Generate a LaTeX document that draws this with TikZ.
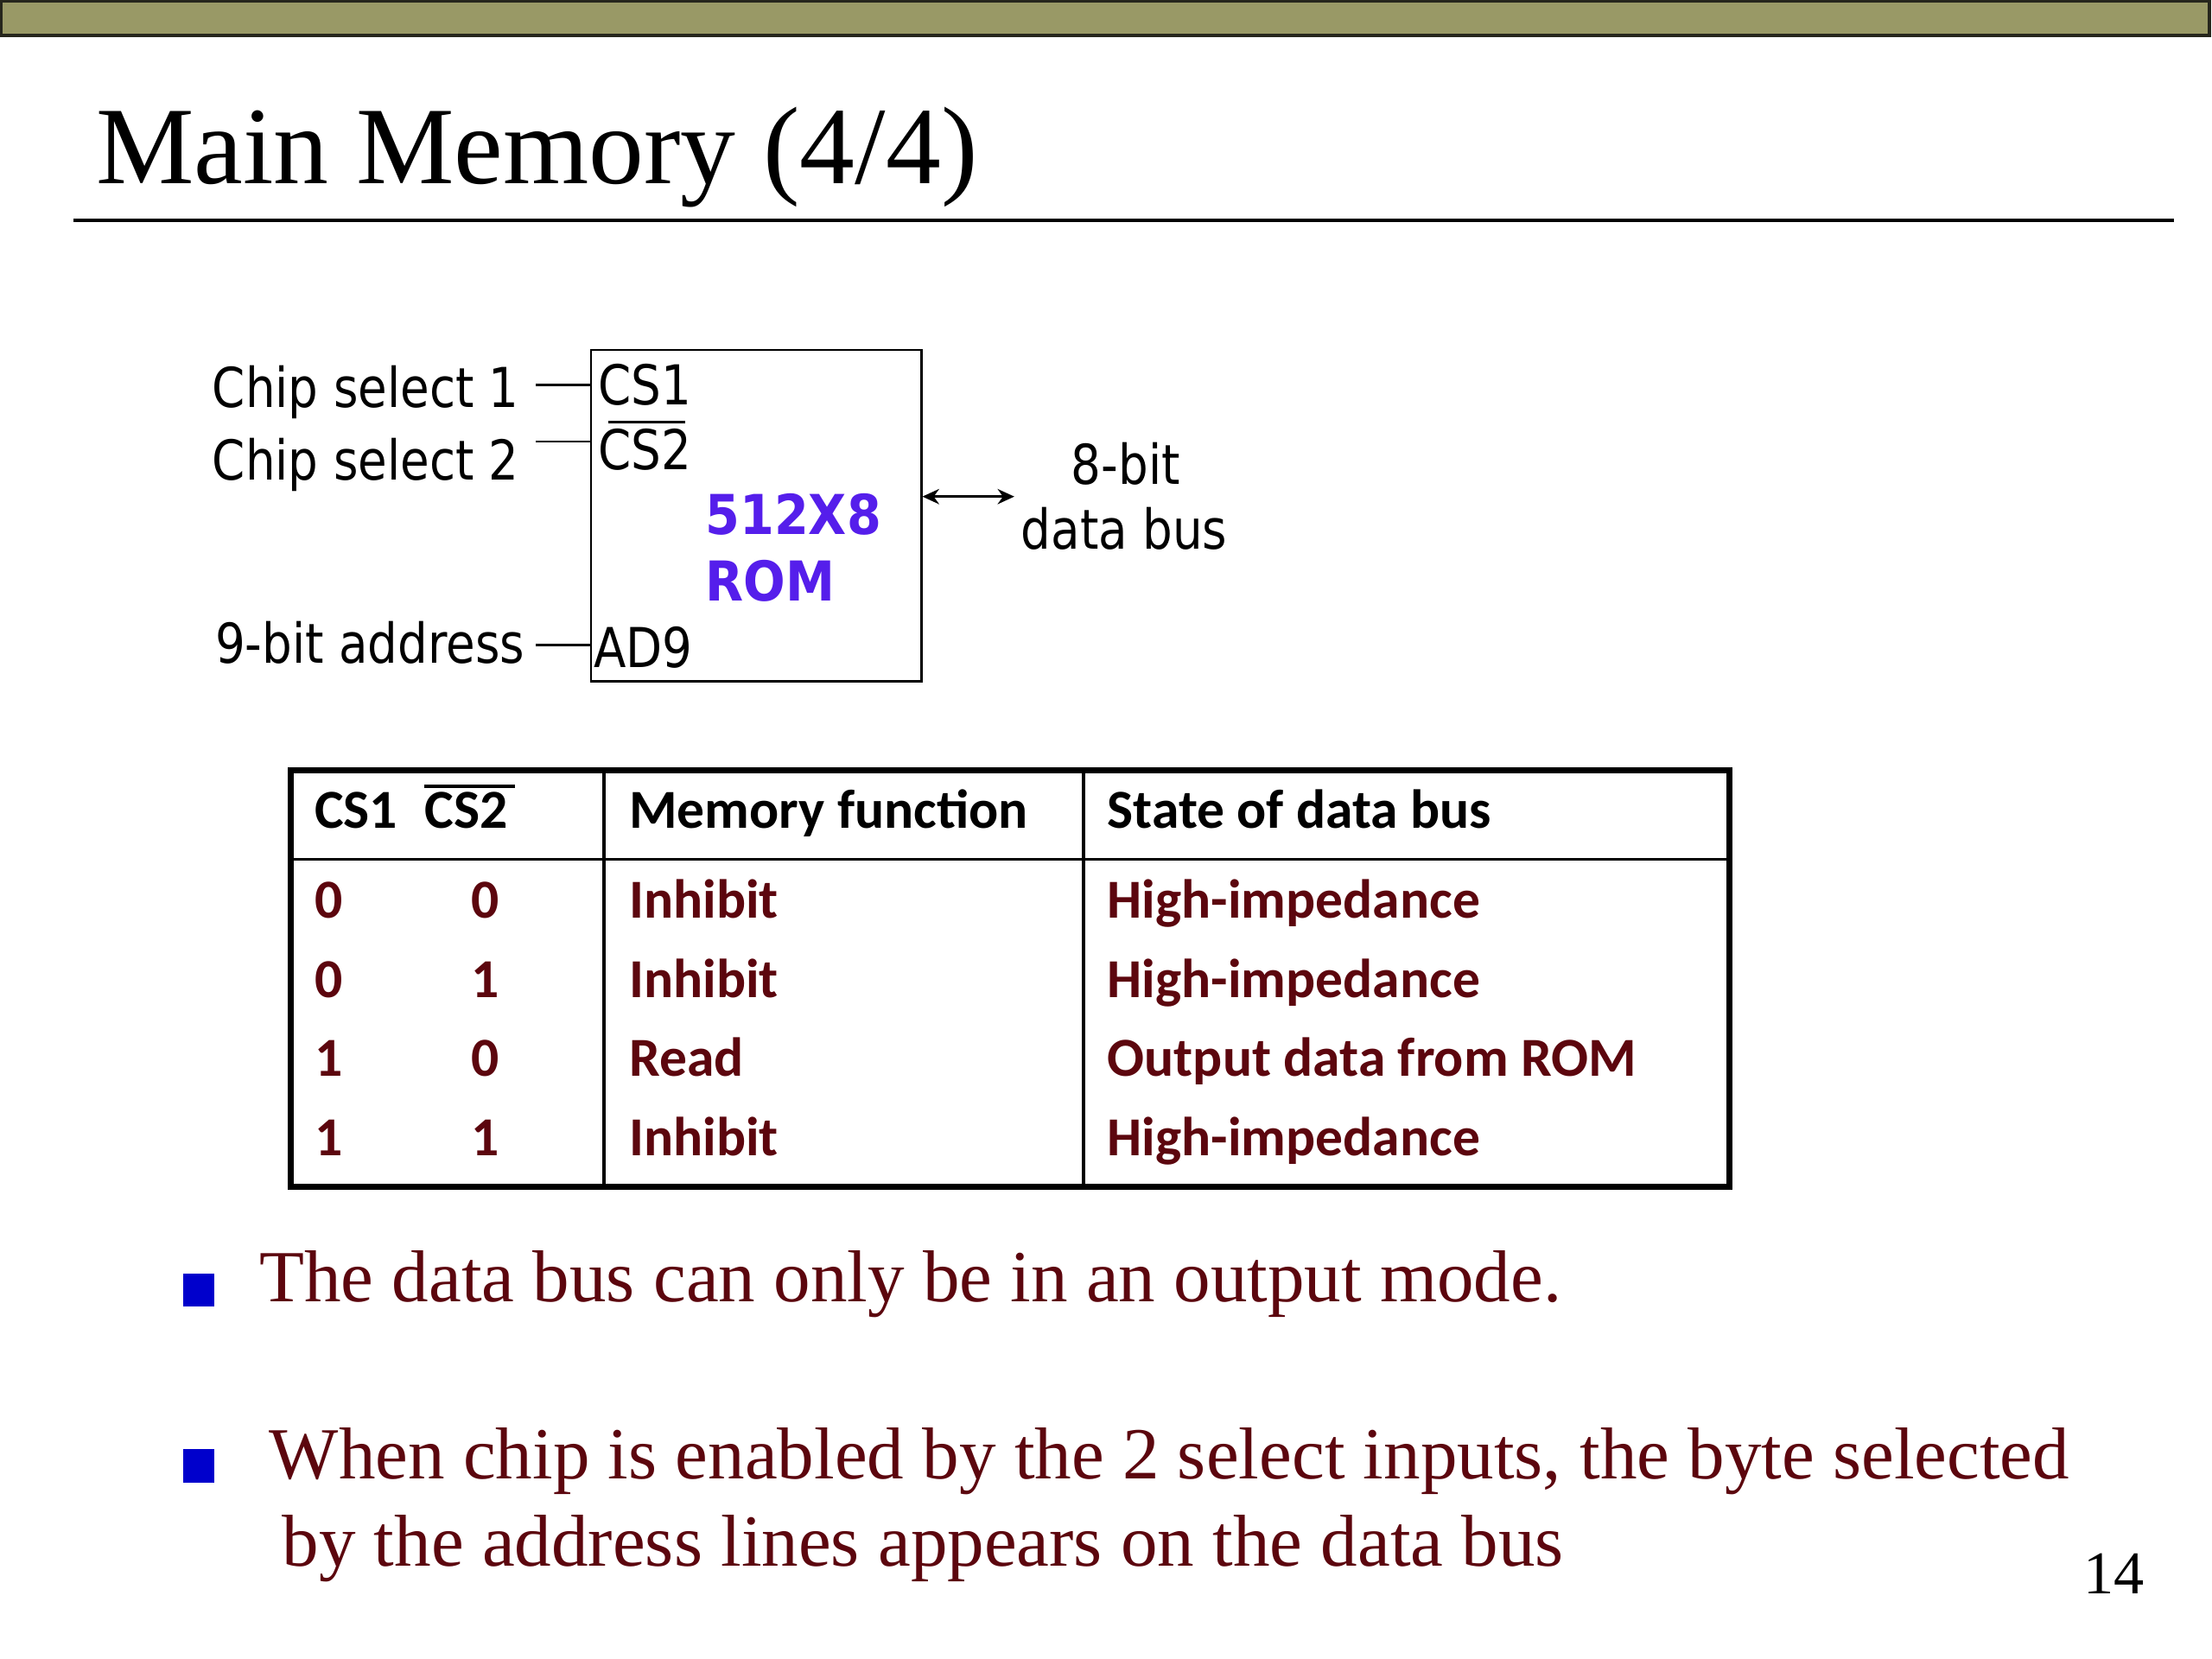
\documentclass[tikz,border=0pt]{standalone}
\usepackage{fontspec}
\setmainfont{Liberation Serif}
\newfontfamily\tahoma[FakeStretch=0.86]{DejaVu Sans}
\newfontfamily\tahomab[FakeStretch=0.9]{DejaVu Sans}
\newfontfamily\calibri{Carlito}
\usetikzlibrary{arrows.meta,calc}
\definecolor{barolive}{RGB}{153,153,102}
\definecolor{baredge}{RGB}{38,38,28}
\definecolor{maroontxt}{RGB}{92,6,14}
\definecolor{rompurple}{RGB}{85,30,235}
\definecolor{bulletblue}{RGB}{0,0,204}
\tikzset{
  txt/.style={inner sep=0pt, outer sep=0pt},
  lbl/.style={txt, font={\tahoma\fontsize{18.1}{22}\selectfont}},
  romtxt/.style={txt, font={\tahomab\bfseries\fontsize{18.1}{22}\selectfont}, text=rompurple},
  thead/.style={txt, font={\calibri\bfseries\fontsize{18.1}{22}\selectfont}},
  tcell/.style={thead, text=maroontxt},
  bodytxt/.style={txt, font={\fontsize{24.2}{29}\selectfont}, text=maroontxt},
  pin/.style={line width=0.8pt},
  thinrule/.style={line width=1pt},
  bulletsq/.style={fill=bulletblue, inner sep=0pt, outer sep=0pt, anchor=north west,
    minimum width=22*0.016327cm, minimum height=23*0.016327cm},
}
\begin{document}
\begin{tikzpicture}[x=0.016327cm, y=-0.016327cm]
\useasboundingbox (0,0) rectangle (1568,1176);
% top bar
\draw[fill=barolive, draw=baredge, line width=1pt] (0.8,0.8) rectangle (1566,25);
% title
\node[txt, font={\fontsize{36.3}{40}\selectfont}, anchor=base west] (title) at (68,130) {Main Memory (4/4)};
\draw[line width=1.1pt] (52,156) -- (1541,156);
% ROM block
\node[draw, line width=0.8pt, inner sep=0pt, minimum width=234*0.016327cm, minimum height=235*0.016327cm] (rom) at (536,365.5) {};
\node[lbl, anchor=base east] (lcs1) at (368,289) {Chip select 1};
\node[lbl, anchor=base east] (lcs2) at (368,340) {Chip select 2};
\node[lbl, anchor=base east] (laddr) at (372,470) {9-bit address};
\coordinate (pcs1) at (380,273);
\coordinate (pcs2) at (380,313);
\coordinate (paddr) at (380,457);
\draw[pin] (pcs1) -- (pcs1 -| rom.west);
\draw[pin] (pcs2) -- (pcs2 -| rom.west);
\draw[pin] (paddr) -- (paddr -| rom.west);
\node[lbl, anchor=base west] (ics1) at (424,287) {CS1};
\node[lbl, anchor=base west] (ics2) at (424,333) {CS2};
\draw[pin] ($(ics2.north west)+(7,-5)$) -- ($(ics2.north east)+(-4,-5)$);
\node[lbl, anchor=base west] (iad9) at (421,473) {AD9};
\node[romtxt, anchor=base west] (r512) at (500,379) {512X8};
\node[romtxt, anchor=base west] (rrom) at (500,426) {ROM};
\coordinate (busend) at (719,352);
\draw[pin, {Stealth[length=5.5pt,width=5pt]}-{Stealth[length=5.5pt,width=5pt]}] (rom.east |- busend) -- (busend);
\node[lbl, anchor=base] (b8) at (798,343) {8-bit};
\node[lbl, anchor=base] (bdata) at (797,389) {data bus};
% table
\draw[line width=2pt] (206,546) rectangle (1226,841);
\draw[thinrule] (206,609) -- (1226,609);
\draw[thinrule] (428,546) -- (428,841);
\draw[thinrule] (768,546) -- (768,841);
\node[thead, anchor=base west] (h1) at (223,587) {CS1};
\node[thead, anchor=base west] (h2) at (301,587) {CS2};
\draw[thinrule] ($(h2.north west)+(0,-4)$) -- ($(h2.north west)+(64,-4)$);
\node[thead, anchor=base west] (h3) at (446,587) {Memory function};
\node[thead, anchor=base west] (h4) at (785,587) {State of data bus};
\node[tcell, anchor=base west] (a1) at (223,651) {0};
\node[tcell, anchor=base west] (b1) at (334,651) {0};
\node[tcell, anchor=base west] (c1) at (446,651) {Inhibit};
\node[tcell, anchor=base west] (d1) at (785,651) {High-impedance};
\node[tcell, anchor=base west] (a2) at (223,707) {0};
\node[tcell, anchor=base west] (b2) at (334,707) {1};
\node[tcell, anchor=base west] (c2) at (446,707) {Inhibit};
\node[tcell, anchor=base west] (d2) at (785,707) {High-impedance};
\node[tcell, anchor=base west] (a3) at (223,763) {1};
\node[tcell, anchor=base west] (b3) at (334,763) {0};
\node[tcell, anchor=base west] (c3) at (446,763) {Read};
\node[tcell, anchor=base west] (d3) at (785,763) {Output data from ROM};
\node[tcell, anchor=base west] (a4) at (223,819) {1};
\node[tcell, anchor=base west] (b4) at (334,819) {1};
\node[tcell, anchor=base west] (c4) at (446,819) {Inhibit};
\node[tcell, anchor=base west] (d4) at (785,819) {High-impedance};
% bullets
\node[bulletsq] (bul1) at (130,903) {};
\node[bulletsq, minimum height=24*0.016327cm] (bul2) at (130,1027) {};
\node[bodytxt, anchor=base west] (t1) at (184,923) {The data bus can only be in an output mode.};
\node[bodytxt, anchor=base west] (t2a) at (191,1048) {When chip is enabled by the 2 select inputs, the byte selected};
\node[bodytxt, anchor=base west] (t2b) at (200,1110) {by the address lines appears on the data bus};
\node[txt, font={\fontsize{20}{24}\selectfont}, anchor=base west] (pg) at (1477,1130) {14};
\end{tikzpicture}
\end{document}
